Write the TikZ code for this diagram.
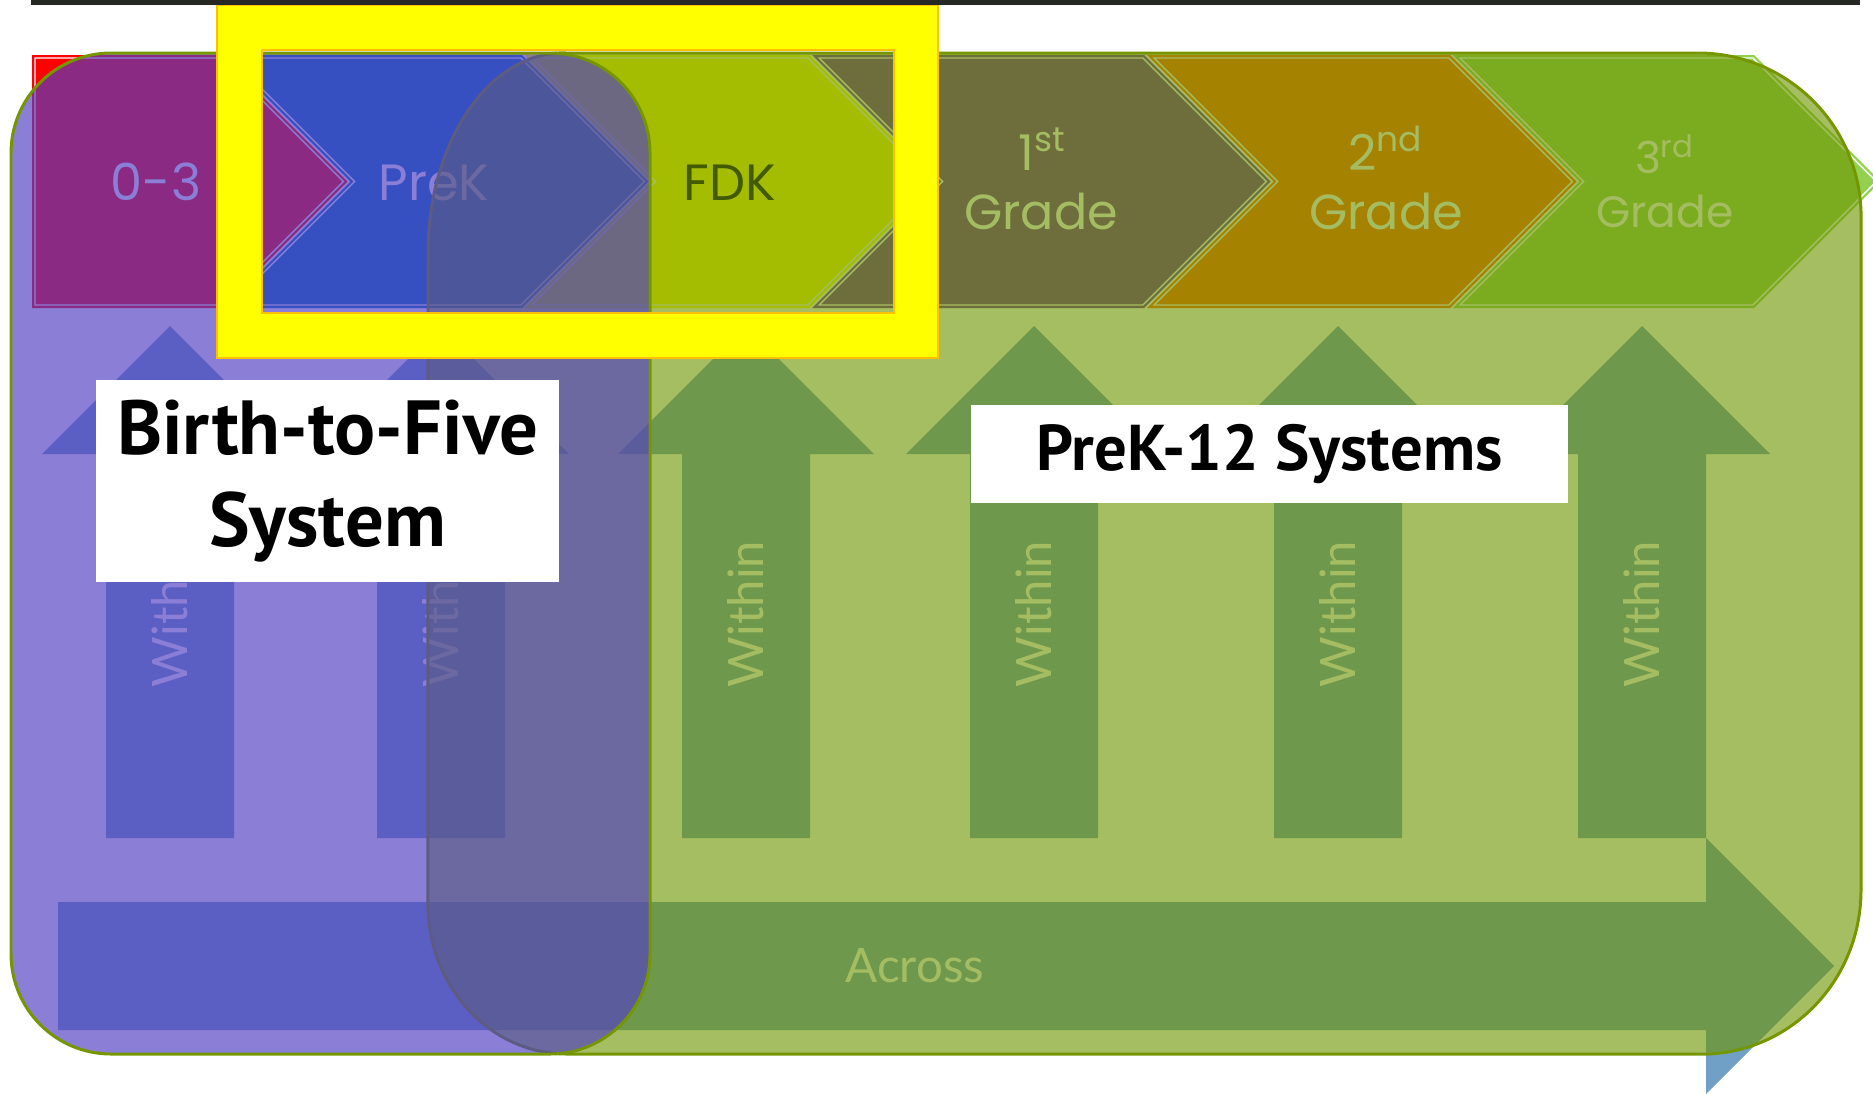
\documentclass[tikz,border=0pt]{standalone}
\usepackage{fontspec}
\setmainfont{Poppins}
\newfontfamily\negrito{PT Sans}
\newfontfamily\fino{Lato}

\definecolor{roxo}{RGB}{81,63,194}
\definecolor{verde}{RGB}{110,149,0}
\definecolor{contorno}{RGB}{118,150,0}
\definecolor{vermelho}{RGB}{255,0,0}
\definecolor{azul}{RGB}{0,112,192}
\definecolor{amarelo}{RGB}{255,255,0}
\definecolor{violeta}{RGB}{112,48,160}
\definecolor{laranja}{RGB}{255,102,0}
\definecolor{verdeclaro}{RGB}{146,208,80}
\definecolor{azulseta}{RGB}{112,160,198}
\definecolor{moldura}{RGB}{255,192,0}
\definecolor{barra}{RGB}{38,40,35}

\begin{document}
\begin{tikzpicture}[x=0.01cm, y=-0.01cm,
    bordabranca/.style={draw=white, line width=0.4pt},
    rotulo/.style={font=\fontsize{14.5}{17}\selectfont, text=white, inner sep=0pt, anchor=base},
    sobrescrito/.style={font=\fontsize{14}{17}\selectfont, text=white, inner sep=0pt, anchor=base},
    dentro/.style={font=\fino\fontsize{13.9}{16}\selectfont, text=white, rotate=90, inner sep=0pt},
    sistema/.style={draw=contorno, line width=0.85pt},
    caixa/.style={fill=white, text=black, inner sep=0pt, align=center}]
    \useasboundingbox (0,0) rectangle (1873,1093);
    \clip (0,0) rectangle (1873,1093);

    % Etapas
    \fill[vermelho] (32,55) -- (221,55) -- (347.5,181.5) -- (221,308) -- (32,308) -- cycle;
    \draw[bordabranca] (35,58) -- (219.8,58) -- (343.3,181.5) -- (219.8,305) -- (35,305) -- cycle;
    \foreach \L/\R/\cor in {224/522/azul, 525/809/amarelo, 812/1144/violeta, 1147/1450/laranja, 1453/1754/verdeclaro} {
        \fill[\cor] (\L,55) -- (\R,55) -- ({\R+126.5},181.5) -- (\R,308) -- (\L,308) -- ({\L+126.5},181.5) -- cycle;
        \draw[bordabranca] ({\L+7.2},58) -- ({\R-1.2},58) -- ({\R+122.3},181.5) -- ({\R-1.2},305) -- ({\L+7.2},305) -- ({\L+130.7},181.5) -- cycle;
    }

    % Rotulos das etapas
    \node[rotulo] (zero) at (156,200) {0-3};
    \node[rotulo] (prek) at (434,200) {PreK};
    \node[rotulo, text=black] (fdk) at (730,200) {FDK};
    \node[sobrescrito] (primeiro) at (1043,170) {1\textsuperscript{st}};
    \node[sobrescrito] (primeirog) at (1041,229) {Grade};
    \node[sobrescrito] (segundo) at (1386,170) {2\textsuperscript{nd}};
    \node[sobrescrito] (segundog) at (1386,229) {Grade};
    \node[sobrescrito, font=\fontsize{12.5}{15}\selectfont] (terceiro) at (1665,173) {3\textsuperscript{rd}};
    \node[sobrescrito, font=\fontsize{12.5}{15}\selectfont] (terceirog) at (1665,227) {Grade};

    % Setas verticais
    \foreach \cx [count=\i] in {170,441,746,1034,1338,1642} {
        \fill[azulseta] ({\cx-64},838) -- ({\cx-64},454) -- ({\cx-128},454) -- (\cx,326)
            -- ({\cx+128},454) -- ({\cx+64},454) -- ({\cx+64},838) -- cycle;
        \node[dentro] (dentro\i) at (\cx,614) {Within};
    }

    % Seta horizontal
    \fill[azulseta] (58,902) -- (1706,902) -- (1706,838) -- (1834,966) -- (1706,1094) -- (1706,1030) -- (58,1030) -- cycle;
    \node[font=\fino\fontsize{13.5}{16}\selectfont, text=white, inner sep=0pt] (atraves) at (915,966) {Across};

    % Sistemas
    \filldraw[sistema, fill=verde, fill opacity=0.616] (563,53) -- (1698,53)
        arc[start angle=90, end angle=0, x radius=1.63cm, y radius=1.64cm] -- (1861,890)
        arc[start angle=0, end angle=-90, x radius=1.59cm, y radius=1.64cm] -- (567,1054)
        arc[start angle=270, end angle=180, x radius=1.39cm, y radius=1.5cm] -- (428,253)
        arc[start angle=180, end angle=90, x radius=1.35cm, y radius=2cm] -- cycle;
    \filldraw[sistema, fill=roxo, fill opacity=0.67, rounded corners=1cm] (11,53) rectangle (650,1054);

    % Moldura e barra
    \fill[amarelo, draw=moldura, line width=0.4pt, even odd rule] (217,5) rectangle (938,358) (262,50) rectangle (894,313);
    \fill[barra] (31,0) rectangle (1860,5);

    % Caixas de texto
    \node[caixa, minimum width=4.63cm, minimum height=2.01cm, font=\negrito\bfseries\fontsize{21.8}{26}\selectfont] (nascimento) at (327.5,481) {Birth-to-Five\\System};
    \node[caixa, minimum width=5.97cm, minimum height=0.97cm, font=\negrito\bfseries\fontsize{18.4}{21}\selectfont] (escolar) at (1269.5,454) {PreK-12 Systems};
\end{tikzpicture}
\end{document}
